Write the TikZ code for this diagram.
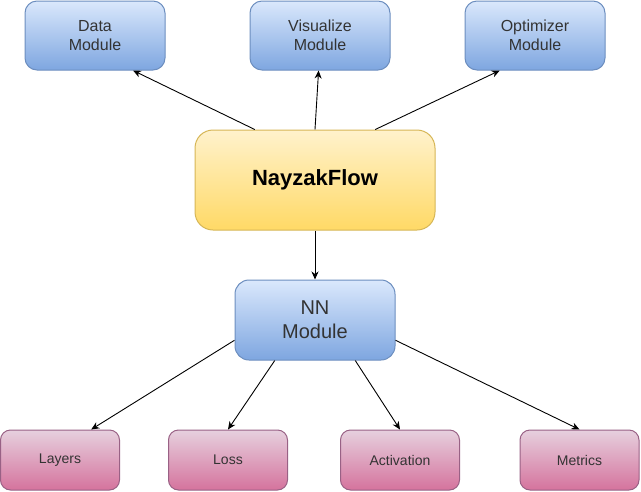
\documentclass[tikz,border=0pt]{standalone}
\usepackage{fontspec}
\setmainfont{Liberation Sans}
\usetikzlibrary{arrows.meta,calc}
\definecolor{bluetop}{HTML}{DAE8FC}
\definecolor{bluebot}{HTML}{7EA6E0}
\definecolor{bluebd}{HTML}{6C8EBF}
\definecolor{yeltop}{HTML}{FFF2CC}
\definecolor{yelbot}{HTML}{FFD966}
\definecolor{yelbd}{HTML}{D6B656}
\definecolor{pinktop}{HTML}{E6D0DE}
\definecolor{pinkbot}{HTML}{D5739D}
\definecolor{pinkbd}{HTML}{996185}
\definecolor{txt}{HTML}{333333}
\tikzset{
  basebox/.style={draw, line width=1pt, inner sep=0pt, align=center, text=txt},
  modbox/.style={basebox, draw=bluebd, top color=bluetop, bottom color=bluebot,
    rounded corners=12pt, minimum width=140pt, minimum height=69pt,
    font=\fontsize{16}{18.7}\selectfont},
  nnbox/.style={basebox, draw=bluebd, top color=bluetop, bottom color=bluebot,
    rounded corners=14pt, minimum width=160pt, minimum height=80pt,
    font=\fontsize{20}{24}\selectfont},
  corebox/.style={basebox, draw=yelbd, top color=yeltop, bottom color=yelbot,
    rounded corners=18pt, minimum width=240pt, minimum height=100pt,
    text=black, font=\fontsize{22}{26}\selectfont\bfseries},
  leafbox/.style={basebox, draw=pinkbd, top color=pinktop, bottom color=pinkbot,
    rounded corners=10pt, minimum width=119pt, minimum height=60pt,
    font=\fontsize{14}{16}\selectfont},
  arr/.style={draw=black, line width=0.9pt, -{Stealth[length=8pt,width=7pt,inset=2.5pt]}}
}
\begin{document}
\begin{tikzpicture}[x=1pt,y=-1pt]
\useasboundingbox (0,0) rectangle (641,491);
\node[modbox] (data) at (95,35.5) {Data\\Module};
\node[modbox] (vis) at (320,35.5) {Visualize\\Module};
\node[modbox] (opt) at (535,35.5) {Optimizer\\Module};
\node[corebox] (nf) at (315,180) {NayzakFlow};
\node[nnbox] (nn) at (315,320) {NN\\Module};
\node[leafbox] (layers) at (60,460) {Layers};
\node[leafbox] (loss) at (228,460) {Loss};
\node[leafbox] (act) at (400,460) {Activation};
\node[leafbox] (met) at (579.5,460) {Metrics};

\draw[arr] ($(nf.north west)!0.25!(nf.north east)$) -- ($(data.south west)!0.77!(data.south east)$);
\draw[arr] (nf.north) -- ($(vis.south west)!0.49!(vis.south east)$);
\draw[arr] ($(nf.north west)!0.75!(nf.north east)$) -- ($(opt.south west)!0.25!(opt.south east)$);
\draw[arr] (nf.south) -- (nn.north);
\draw[arr] ($(nn.north west)!0.75!(nn.south west)$) -- ($(layers.north west)!0.76!(layers.north east)$);
\draw[arr] ($(nn.south west)!0.25!(nn.south east)$) -- (loss.north);
\draw[arr] ($(nn.south west)!0.75!(nn.south east)$) -- (act.north);
\draw[arr] ($(nn.north east)!0.75!(nn.south east)$) -- (met.north);
\end{tikzpicture}
\end{document}
